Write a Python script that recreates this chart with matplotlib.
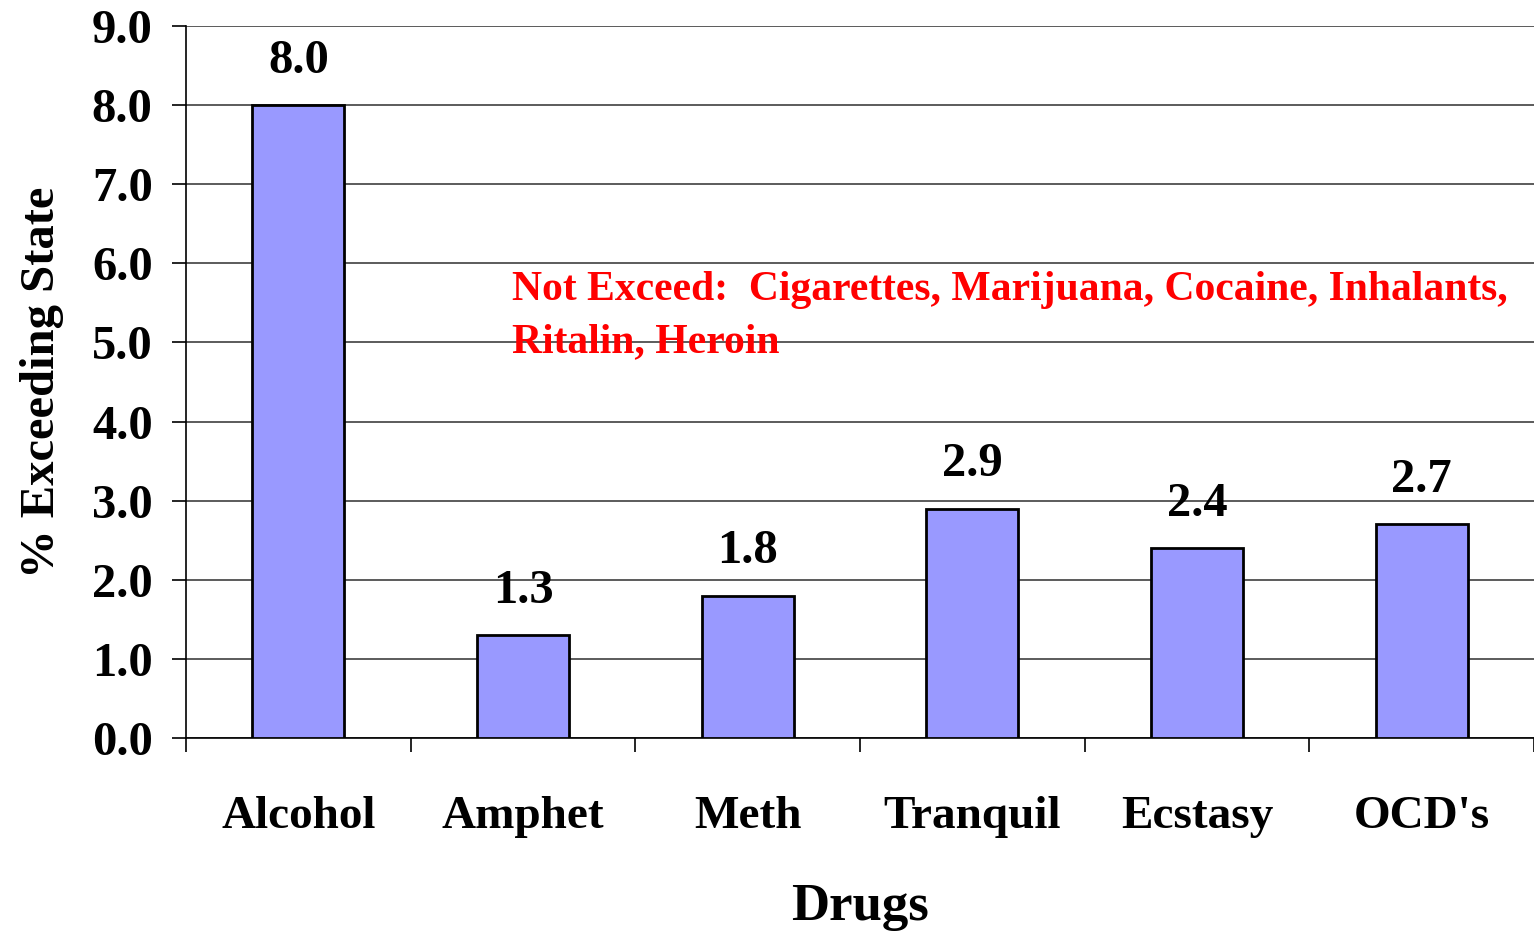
import numpy as np
import matplotlib.pyplot as plt

drugs = ["Alcohol", "Amphet", "Meth", "Tranquil", "Ecstasy", "OCD's"]
pct = [8.0, 1.3, 1.8, 2.9, 2.4, 2.7]
note = "Not Exceed:  Cigarettes, Marijuana, Cocaine, Inhalants,\nRitalin, Heroin"

plt.rcParams['font.family'] = ['Liberation Serif', 'DejaVu Serif']
plt.rcParams['font.weight'] = 'bold'

fig = plt.figure(figsize=(15.34, 9.31), dpi=100)
ax = fig.add_axes([186 / 1534, 1 - 738 / 931, (1534 - 186) / 1534, (738 - 26) / 931])

x = np.arange(len(drugs))
ax.bar(x, pct, width=0.41, color='#9999FF', edgecolor='black', linewidth=2, zorder=3)
for xi, v in zip(x, pct):
    ax.text(xi, v + 0.28, f"{v:.1f}", ha='center', va='bottom', fontsize=35, fontweight='bold')

ax.set_xlim(-0.5, len(drugs) - 0.5)
ax.set_ylim(0, 9)
ax.set_yticks(np.arange(0, 9.1, 1.0))
ax.set_yticklabels([f"{v:.1f}" for v in np.arange(0, 9.1, 1.0)], fontsize=35, fontweight='bold')
ax.yaxis.grid(True, color='#404040', linewidth=1.2, zorder=0)
ax.set_axisbelow(True)

ax.set_xticks(x)
ax.set_xticklabels(drugs, fontsize=34, fontweight='bold')
ax.set_xticks(np.arange(-0.5, len(drugs), 1.0), minor=True)
ax.tick_params(axis='x', which='major', length=0, pad=42)
ax.tick_params(axis='x', which='minor', length=10, width=1.2, direction='out')
ax.tick_params(axis='y', length=10, width=1.2, direction='out', pad=14)

ax.spines['top'].set_visible(False)
ax.spines['right'].set_visible(False)
ax.spines['left'].set_linewidth(1.2)
ax.spines['bottom'].set_linewidth(1.2)

ax.set_xlabel("Drugs", fontsize=38, fontweight='bold', labelpad=32)
ax.set_ylabel("% Exceeding State", fontsize=35, fontweight='bold', labelpad=20)

ax.text(0.95, 5.33, note, color='red', fontsize=30, fontweight='bold',
        ha='left', va='center', linespacing=1.5, zorder=4)

fig.savefig("out.png", dpi=100)
